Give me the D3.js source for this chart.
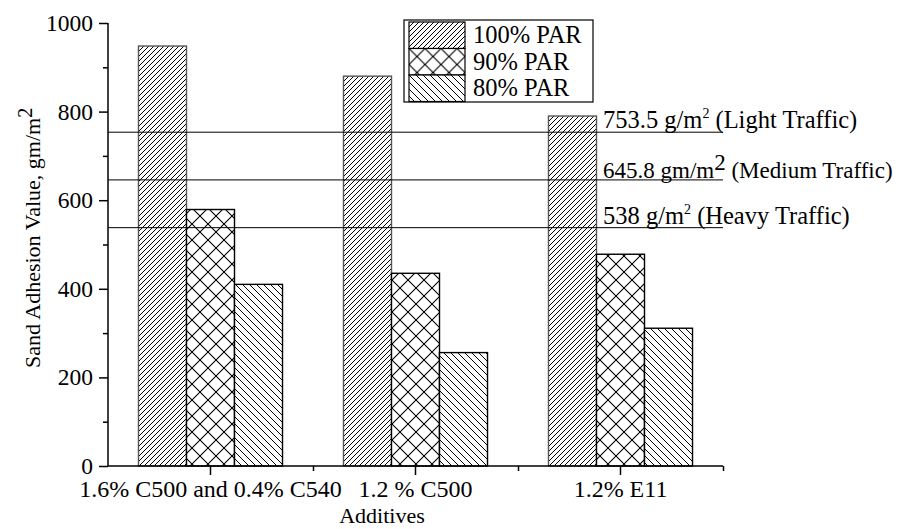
<!DOCTYPE html>
<meta charset='utf-8'>
<style>
  body { margin: 0; background: #fff; }
  text { font-family: "Liberation Serif", "Times New Roman", serif; fill: #000; }
  .axis path, .axis line { stroke: #000; stroke-width: 1.5; }
  .axis text { font-size: 24px; font-family: "Liberation Serif", "Times New Roman", serif; }
  .yaxis text { font-size: 23.5px; }
</style>
<svg width="898" height="529"></svg>
<script src="https://d3js.org/d3.v7.min.js"></script>
<script>

// data
var categories = ["1.6% C500 and 0.4% C540", "1.2 % C500", "1.2% E11"];
var series = ["100% PAR", "90% PAR", "80% PAR"];
var par100 = [948, 880, 790];
var par90 = [579, 435, 478];
var par80 = [410, 256, 311];
var limitValues = [753.5, 645.8, 538];
var limitText = ["753.5 g/m", "645.8 gm/m", "538 g/m"];
var limitTail = [" (Light Traffic)", " (Medium Traffic)", " (Heavy Traffic)"];
var yTicks = [0, 200, 400, 600, 800, 1000];
var yMinor = [100, 300, 500, 700, 900];

var svg = d3.select("svg");
var defs = svg.append("defs");

// hatch patterns
function hatch(id, size, paths, sw) {
  var p = defs.append("pattern")
    .attr("id", id)
    .attr("patternUnits", "userSpaceOnUse")
    .attr("width", size).attr("height", size);
  p.append("rect").attr("width", size).attr("height", size).attr("fill", "#fff");
  p.append("path").attr("d", paths)
    .attr("stroke", "#000").attr("stroke-width", sw).attr("fill", "none");
}
var s1 = 5;
hatch("p100", s1, "M0," + s1 + "L" + s1 + ",0 M-1,1L1,-1 M" + (s1 - 1) + "," + (s1 + 1) + "L" + (s1 + 1) + "," + (s1 - 1), 1);
var s2 = 16;
hatch("p90", s2, "M0,0L" + s2 + "," + s2 + " M0," + s2 + "L" + s2 + ",0", 1.1);
var s3 = 7;
hatch("p80", s3, "M0,0L" + s3 + "," + s3 + " M-1," + (s3 - 1) + "L1," + (s3 + 1) + " M" + (s3 - 1) + ",-1L" + (s3 + 1) + ",1", 1);

var fills = { "100% PAR": "url(#p100)", "90% PAR": "url(#p90)", "80% PAR": "url(#p80)" };
var strokes = { "100% PAR": "#555", "90% PAR": "#000", "80% PAR": "#000" };

var x = d3.scaleBand().domain(categories).range([108, 723]).padding(0);
var xs = d3.scaleBand().domain(series).range([0, x.bandwidth()]).paddingInner(0).paddingOuter(0.635);
var y = d3.scaleLinear().domain([0, 1000]).range([466, 23]);

var rows = [];
categories.forEach(function(c, i) {
  rows.push({ cat: c, s: "100% PAR", v: par100[i] });
  rows.push({ cat: c, s: "90% PAR", v: par90[i] });
  rows.push({ cat: c, s: "80% PAR", v: par80[i] });
});

svg.append("g").selectAll("rect")
  .data(rows)
  .enter()
  .append("rect")
  .attr("x", function(d) { return x(d.cat) + xs(d.s); })
  .attr("y", function(d) { return y(d.v); })
  .attr("width", xs.bandwidth())
  .attr("height", function(d) { return y(0) - y(d.v); })
  .attr("fill", function(d) { return fills[d.s]; })
  .attr("stroke", function(d) { return strokes[d.s]; })
  .attr("stroke-width", 1.4);

// traffic limit lines
svg.append("g").selectAll("line")
  .data(limitValues)
  .enter()
  .append("line")
  .attr("x1", 108).attr("x2", 723)
  .attr("y1", function(d) { return y(d); })
  .attr("y2", function(d) { return y(d); })
  .attr("stroke", "#000").attr("stroke-width", 1);

var labelDy = [-4, -2, -4];
var labelSize = ["24.5px", "23px", "24.5px"];
var supSize = ["14px", "23px", "14px"];
var supDy = [-10, -8, -10];
var lab = svg.append("g").selectAll("text")
  .data(limitValues)
  .enter()
  .append("text")
  .attr("x", 603)
  .attr("y", function(d, i) { return y(d) + labelDy[i]; })
  .style("font-size", function(d, i) { return labelSize[i]; });
lab.append("tspan").text(function(d, i) { return limitText[i]; });
lab.append("tspan")
  .attr("dy", function(d, i) { return supDy[i]; })
  .style("font-size", function(d, i) { return supSize[i]; })
  .text("2");
lab.append("tspan")
  .attr("dy", function(d, i) { return -supDy[i]; })
  .text(function(d, i) { return limitTail[i]; });

// y axis
var yAxis = svg.append("g").attr("class", "axis yaxis")
  .attr("transform", "translate(108,0)")
  .call(d3.axisLeft(y).tickValues(yTicks).tickSize(9).tickPadding(6).tickFormat(d3.format("d")));
svg.append("g").attr("class", "axis")
  .attr("transform", "translate(108,0)")
  .call(d3.axisLeft(y).tickValues(yMinor).tickSize(5).tickFormat(""))
  .select(".domain").remove();
yAxis.select(".domain").attr("d", "M0," + y(1000) + "V" + y(0));

// x axis
var xAxis = svg.append("g").attr("class", "axis")
  .attr("transform", "translate(0," + y(0) + ")")
  .call(d3.axisBottom(x).tickSize(9).tickPadding(5));
xAxis.select(".domain").attr("d", "M108,0H723");
svg.append("g").attr("class", "axis")
  .attr("transform", "translate(0," + y(0) + ")")
  .call(d3.axisBottom(d3.scaleLinear().domain([0, 3]).range([108, 723]))
    .tickValues([1, 2, 3]).tickSize(5).tickFormat(""))
  .select(".domain").remove();

// axis titles
svg.append("text")
  .attr("x", 382).attr("y", 523)
  .attr("text-anchor", "middle")
  .style("font-size", "22px")
  .text("Additives");

var yt = svg.append("text")
  .attr("transform", "translate(40,368) rotate(-90)")
  .style("font-size", "22px");
yt.append("tspan").text("Sand Adhesion Value, gm/m");
yt.append("tspan").attr("dy", -8).style("font-size", "20px").text("2");

// legend
var lg = svg.append("g").attr("transform", "translate(404,20)");
lg.append("rect").attr("width", 189).attr("height", 82)
  .attr("fill", "#fff").attr("stroke", "#000").attr("stroke-width", 1.2);
var li = lg.selectAll(".li")
  .data(series)
  .enter()
  .append("g")
  .attr("transform", function(d, i) { return "translate(5," + (2 + i * 26.5) + ")"; });
li.append("rect")
  .attr("width", 56).attr("height", 26.5)
  .attr("fill", function(d) { return fills[d]; })
  .attr("stroke", "#000").attr("stroke-width", 1.2);
li.append("text")
  .attr("x", 64).attr("y", 21)
  .style("font-size", "24.5px")
  .text(function(d) { return d; });

</script>
